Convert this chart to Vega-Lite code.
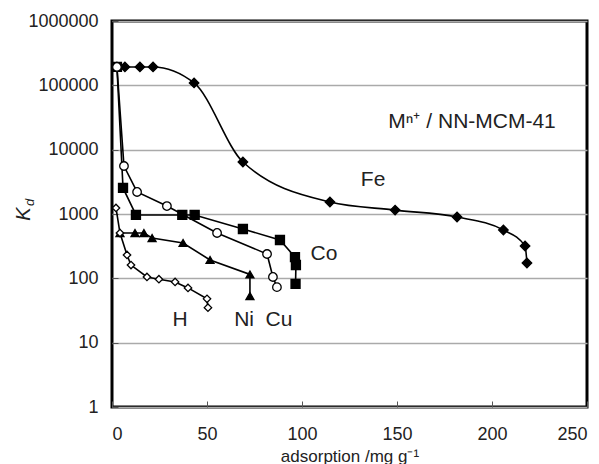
{
  "$schema": "https://vega.github.io/schema/vega-lite/v6.json",
  "width": 475,
  "height": 386,
  "autosize": {"type": "none"},
  "padding": {"left": 112, "top": 21, "right": 12, "bottom": 57},
  "background": "white",
  "config": {
    "font": "Liberation Sans",
    "view": {"stroke": "black", "strokeWidth": 3},
    "axis": {"labelColor": "#222", "titleColor": "#222", "labelFont": "Liberation Sans", "titleFont": "Liberation Sans", "domain": false, "tickColor": "#555"}
  },
  "datasets": {
    "series": [
      {"s": "Fe", "i": 1, "x": 2.6, "y": 193000},
      {"s": "Fe", "i": 2, "x": 6.8, "y": 193000},
      {"s": "Fe", "i": 3, "x": 14.7, "y": 193000},
      {"s": "Fe", "i": 4, "x": 21.6, "y": 193000},
      {"s": "Fe", "i": 5, "x": 43.2, "y": 109000},
      {"s": "Fe", "i": 6, "x": 68.9, "y": 6430},
      {"s": "Fe", "i": 7, "x": 114.7, "y": 1535},
      {"s": "Fe", "i": 8, "x": 149, "y": 1150},
      {"s": "Fe", "i": 9, "x": 181.6, "y": 897},
      {"s": "Fe", "i": 10, "x": 206, "y": 564},
      {"s": "Fe", "i": 11, "x": 217.4, "y": 318},
      {"s": "Fe", "i": 12, "x": 218.4, "y": 173},
      {"s": "Co", "i": 1, "x": 2.6, "y": 193000},
      {"s": "Co", "i": 2, "x": 5.8, "y": 2540},
      {"s": "Co", "i": 3, "x": 12.6, "y": 966},
      {"s": "Co", "i": 4, "x": 37, "y": 966},
      {"s": "Co", "i": 5, "x": 43.5, "y": 966},
      {"s": "Co", "i": 6, "x": 68.9, "y": 585},
      {"s": "Co", "i": 7, "x": 88.4, "y": 394},
      {"s": "Co", "i": 8, "x": 96.3, "y": 214},
      {"s": "Co", "i": 9, "x": 96.8, "y": 161},
      {"s": "Co", "i": 10, "x": 96.6, "y": 82},
      {"s": "Cu", "i": 1, "x": 2.6, "y": 193000},
      {"s": "Cu", "i": 2, "x": 6.3, "y": 5570},
      {"s": "Cu", "i": 3, "x": 13.2, "y": 2200},
      {"s": "Cu", "i": 4, "x": 28.9, "y": 1330},
      {"s": "Cu", "i": 5, "x": 55.3, "y": 507},
      {"s": "Cu", "i": 6, "x": 81.6, "y": 239},
      {"s": "Cu", "i": 7, "x": 84.7, "y": 105},
      {"s": "Cu", "i": 8, "x": 86.8, "y": 73},
      {"s": "Ni", "i": 1, "x": 4.2, "y": 506},
      {"s": "Ni", "i": 2, "x": 12.1, "y": 506},
      {"s": "Ni", "i": 3, "x": 16.8, "y": 506},
      {"s": "Ni", "i": 4, "x": 21.1, "y": 423},
      {"s": "Ni", "i": 5, "x": 37.4, "y": 354},
      {"s": "Ni", "i": 6, "x": 51.6, "y": 193},
      {"s": "Ni", "i": 7, "x": 72.6, "y": 115},
      {"s": "Ni", "i": 8, "x": 72.6, "y": 53},
      {"s": "H", "i": 1, "x": 2.1, "y": 1240},
      {"s": "H", "i": 2, "x": 4.2, "y": 506},
      {"s": "H", "i": 3, "x": 7.9, "y": 231},
      {"s": "H", "i": 4, "x": 10, "y": 161},
      {"s": "H", "i": 5, "x": 18.4, "y": 105},
      {"s": "H", "i": 6, "x": 24.7, "y": 97},
      {"s": "H", "i": 7, "x": 33.2, "y": 88},
      {"s": "H", "i": 8, "x": 40, "y": 71},
      {"s": "H", "i": 9, "x": 50, "y": 48},
      {"s": "H", "i": 10, "x": 50.5, "y": 35}
    ],
    "labels": [
      {"t": "Fe", "x": 137.4, "y": 3436},
      {"t": "Co", "x": 111.6, "y": 239},
      {"t": "Cu", "x": 87.9, "y": 22.5},
      {"t": "Ni", "x": 69.5, "y": 22.5},
      {"t": "H", "x": 35.8, "y": 22.5},
      {"t": "Mⁿ⁺ / NN-MCM-41", "x": 189.5, "y": 26900}
    ],
    "ytitle": [
      {"t": "K", "x": -46.3, "y": 1000, "fs": 20},
      {"t": "d", "x": -43.0, "y": 1520, "fs": 13}
    ]
  },
  "encoding": {
    "x": {
      "field": "x", "type": "quantitative",
      "scale": {"domain": [0, 250], "nice": false, "zero": false},
      "axis": {"values": [0, 50, 100, 150, 200, 250], "grid": false, "tickSize": -6, "labelFontSize": 18, "labelPadding": 24, "title": "adsorption /mg g⁻¹", "titleFontSize": 17, "titleFontWeight": "normal", "titlePadding": 5}
    },
    "y": {
      "field": "y", "type": "quantitative",
      "scale": {"type": "log", "domain": [1, 1000000], "nice": false},
      "axis": {"values": [1, 10, 100, 1000, 10000, 100000, 1000000], "format": "d", "grid": true, "gridColor": "#aaaaaa", "gridWidth": 1.5, "tickSize": -6, "labelFontSize": 18, "labelPadding": 20, "title": null}
    }
  },
  "layer": [
    {
      "data": {"name": "series"},
      "transform": [{"filter": "datum.s === 'Fe'"}],
      "mark": {"type": "line", "interpolate": "monotone", "color": "black", "strokeWidth": 1.6},
      "encoding": {"order": {"field": "i", "type": "quantitative"}}
    },
    {
      "data": {"name": "series"},
      "transform": [{"filter": "datum.s !== 'Fe'"}],
      "mark": {"type": "line", "color": "black", "strokeWidth": 1.6},
      "encoding": {"detail": {"field": "s"}, "order": {"field": "i", "type": "quantitative"}}
    },
    {
      "data": {"name": "series"},
      "mark": {"type": "point", "filled": true, "stroke": "black", "strokeWidth": 1.3, "opacity": 1},
      "encoding": {
        "shape": {"field": "s", "type": "nominal", "scale": {"domain": ["Fe", "Co", "Cu", "Ni", "H"], "range": ["diamond", "square", "circle", "triangle-up", "diamond"]}, "legend": null},
        "fill": {"field": "s", "type": "nominal", "scale": {"domain": ["Fe", "Co", "Cu", "Ni", "H"], "range": ["black", "black", "white", "black", "white"]}, "legend": null},
        "size": {"field": "s", "type": "nominal", "scale": {"domain": ["Fe", "Co", "Cu", "Ni", "H"], "range": [90, 55, 60, 65, 60]}, "legend": null}
      }
    },
    {
      "data": {"name": "labels"},
      "mark": {"type": "text", "align": "center", "baseline": "middle", "color": "#222", "fontSize": 21},
      "encoding": {"text": {"field": "t"}}
    },
    {
      "data": {"name": "ytitle"},
      "mark": {"type": "text", "align": "center", "baseline": "middle", "color": "#222", "fontStyle": "italic", "angle": 270},
      "encoding": {
        "text": {"field": "t"},
        "size": {"field": "fs", "type": "quantitative", "scale": null}
      }
    }
  ]
}
